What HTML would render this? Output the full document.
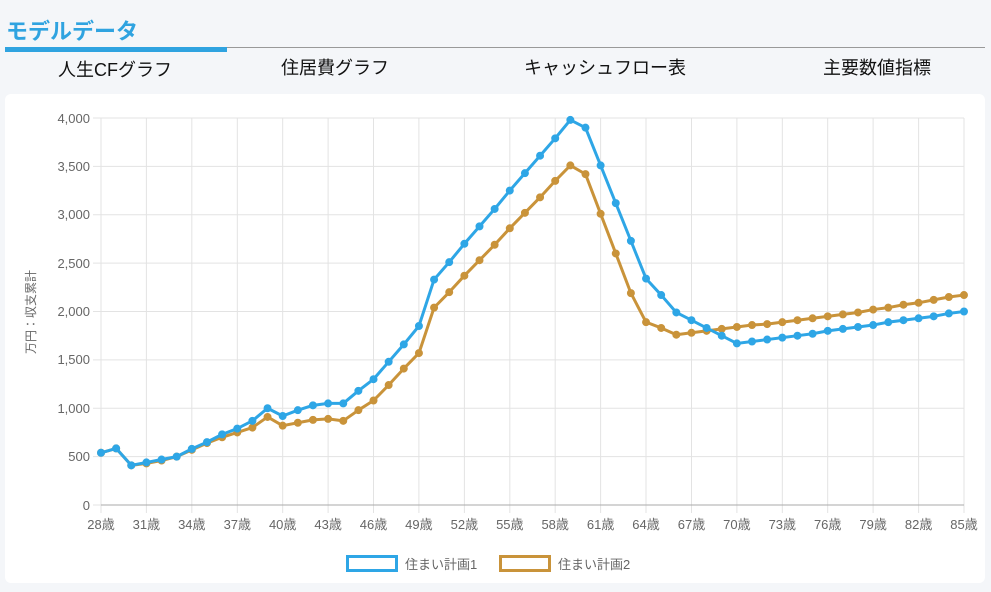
<!DOCTYPE html>
<html><head><meta charset="utf-8"><style>
body{margin:0;width:991px;height:592px;background:#f4f6f9;font-family:"Liberation Sans","Noto Sans CJK JP",sans-serif;overflow:hidden;position:relative}
.card{position:absolute;left:5px;top:94px;width:980px;height:489px;background:#fff;border-radius:6px}
</style></head><body>
<div style="position:absolute;left:6px;top:14px;font-size:22px;color:#2fa3e0;font-weight:bold">モデルデータ</div>
<div style="position:absolute;left:5px;top:47px;width:980px;height:1px;background:#999"></div>
<div style="position:absolute;left:5px;top:47px;width:222px;height:5px;background:#2fa3e0"></div>
<div class="card"></div>
<svg width="991" height="592" style="position:absolute;left:0;top:0" font-family="Liberation Sans, Noto Sans CJK JP, sans-serif">
<g font-size="18" fill="#111" text-anchor="middle">
<text x="115" y="76">人生CFグラフ</text><text x="335" y="74">住居費グラフ</text><text x="605" y="74">キャッシュフロー表</text><text x="877" y="74">主要数値指標</text>
</g>
<g stroke="#e3e3e3" stroke-width="1">
<path d="M101 118H964M101 166.4H964M101 214.8H964M101 263.1H964M101 311.5H964M101 359.9H964M101 408.3H964M101 456.6H964"/>
<path d="M101 118V513M146.4 118V513M191.8 118V513M237.3 118V513M282.7 118V513M328.1 118V513M373.5 118V513M418.9 118V513M464.4 118V513M509.8 118V513M555.2 118V513M600.6 118V513M646 118V513M691.5 118V513M736.9 118V513M782.3 118V513M827.7 118V513M873.1 118V513M918.6 118V513M964 118V513"/>
<path d="M93 118H101M93 166.4H101M93 214.8H101M93 263.1H101M93 311.5H101M93 359.9H101M93 408.3H101M93 456.6H101M93 505H101"/>
</g>
<path d="M101 505H964" stroke="#aaa"/>
<g font-size="13" fill="#666" text-anchor="end">
<text x="90" y="123">4,000</text><text x="90" y="171">3,500</text><text x="90" y="219">3,000</text><text x="90" y="268">2,500</text><text x="90" y="316">2,000</text><text x="90" y="364">1,500</text><text x="90" y="413">1,000</text><text x="90" y="461">500</text><text x="90" y="510">0</text>
</g>
<g font-size="13" fill="#666" text-anchor="middle">
<text x="101" y="529">28歳</text><text x="146.4" y="529">31歳</text><text x="191.8" y="529">34歳</text><text x="237.3" y="529">37歳</text><text x="282.7" y="529">40歳</text><text x="328.1" y="529">43歳</text><text x="373.5" y="529">46歳</text><text x="418.9" y="529">49歳</text><text x="464.4" y="529">52歳</text><text x="509.8" y="529">55歳</text><text x="555.2" y="529">58歳</text><text x="600.6" y="529">61歳</text><text x="646" y="529">64歳</text><text x="691.5" y="529">67歳</text><text x="736.9" y="529">70歳</text><text x="782.3" y="529">73歳</text><text x="827.7" y="529">76歳</text><text x="873.1" y="529">79歳</text><text x="918.6" y="529">82歳</text><text x="964" y="529">85歳</text>
</g>
<text transform="translate(35,312) rotate(-90)" font-size="12" fill="#666" text-anchor="middle">万円：収支累計</text>
<g transform="translate(101,505) scale(15.14,-0.09675)" fill="none" stroke-linejoin="round" stroke-linecap="round">
<polyline vector-effect="non-scaling-stroke" stroke="#c9933a" stroke-width="3" points="0,540 1,585 2,410 3,430 4,460 5,500 6,570 7,640 8,700 9,750 10,800 11,910 12,820 13,850 14,880 15,890 16,870 17,980 18,1080 19,1240 20,1410 21,1570 22,2040 23,2200 24,2370 25,2530 26,2690 27,2860 28,3020 29,3180 30,3350 31,3510 32,3420 33,3010 34,2600 35,2190 36,1890 37,1830 38,1760 39,1780 40,1800 41,1820 42,1840 43,1860 44,1870 45,1890 46,1910 47,1930 48,1950 49,1970 50,1990 51,2020 52,2040 53,2070 54,2090 55,2120 56,2150 57,2170"/>
<path vector-effect="non-scaling-stroke" stroke="#c9933a" stroke-width="8" d="M0 540h0M1 585h0M2 410h0M3 430h0M4 460h0M5 500h0M6 570h0M7 640h0M8 700h0M9 750h0M10 800h0M11 910h0M12 820h0M13 850h0M14 880h0M15 890h0M16 870h0M17 980h0M18 1080h0M19 1240h0M20 1410h0M21 1570h0M22 2040h0M23 2200h0M24 2370h0M25 2530h0M26 2690h0M27 2860h0M28 3020h0M29 3180h0M30 3350h0M31 3510h0M32 3420h0M33 3010h0M34 2600h0M35 2190h0M36 1890h0M37 1830h0M38 1760h0M39 1780h0M40 1800h0M41 1820h0M42 1840h0M43 1860h0M44 1870h0M45 1890h0M46 1910h0M47 1930h0M48 1950h0M49 1970h0M50 1990h0M51 2020h0M52 2040h0M53 2070h0M54 2090h0M55 2120h0M56 2150h0M57 2170h0"/>
<polyline vector-effect="non-scaling-stroke" stroke="#2ea6e6" stroke-width="3" points="0,540 1,585 2,410 3,440 4,470 5,500 6,580 7,650 8,730 9,790 10,870 11,1000 12,920 13,980 14,1030 15,1050 16,1050 17,1180 18,1300 19,1480 20,1660 21,1850 22,2330 23,2510 24,2700 25,2880 26,3060 27,3250 28,3430 29,3610 30,3790 31,3980 32,3900 33,3510 34,3120 35,2730 36,2340 37,2170 38,1990 39,1910 40,1830 41,1750 42,1670 43,1690 44,1710 45,1730 46,1750 47,1770 48,1800 49,1820 50,1840 51,1860 52,1890 53,1910 54,1930 55,1950 56,1980 57,2000"/>
<path vector-effect="non-scaling-stroke" stroke="#2ea6e6" stroke-width="8" d="M0 540h0M1 585h0M2 410h0M3 440h0M4 470h0M5 500h0M6 580h0M7 650h0M8 730h0M9 790h0M10 870h0M11 1000h0M12 920h0M13 980h0M14 1030h0M15 1050h0M16 1050h0M17 1180h0M18 1300h0M19 1480h0M20 1660h0M21 1850h0M22 2330h0M23 2510h0M24 2700h0M25 2880h0M26 3060h0M27 3250h0M28 3430h0M29 3610h0M30 3790h0M31 3980h0M32 3900h0M33 3510h0M34 3120h0M35 2730h0M36 2340h0M37 2170h0M38 1990h0M39 1910h0M40 1830h0M41 1750h0M42 1670h0M43 1690h0M44 1710h0M45 1730h0M46 1750h0M47 1770h0M48 1800h0M49 1820h0M50 1840h0M51 1860h0M52 1890h0M53 1910h0M54 1930h0M55 1950h0M56 1980h0M57 2000h0"/>
</g>
<rect x="347.5" y="556.5" width="49" height="14" fill="#fff" stroke="#2ea6e6" stroke-width="3"/>
<text x="405" y="569" font-size="13" fill="#666">住まい計画1</text>
<rect x="500.5" y="556.5" width="49" height="14" fill="#fff" stroke="#c9933a" stroke-width="3"/>
<text x="558" y="569" font-size="13" fill="#666">住まい計画2</text>
</svg>
</body></html>
